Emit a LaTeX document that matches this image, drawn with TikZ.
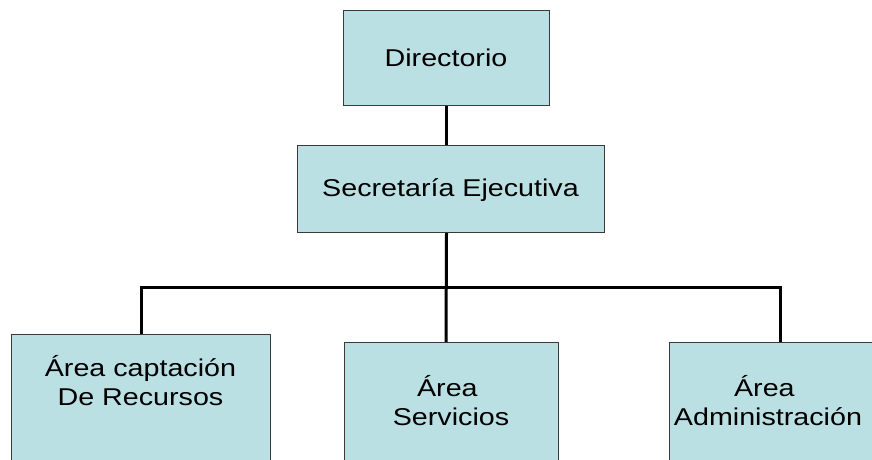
\documentclass[tikz,border=0pt]{standalone}
\usepackage{fontspec}
\newfontfamily\orgfont[FakeStretch=1.18]{Liberation Sans}
\definecolor{boxfill}{HTML}{BBE0E3}
\definecolor{boxline}{HTML}{3A3A3A}
\begin{document}
\begin{tikzpicture}[x=1pt,y=-1pt,
  box/.style={draw=boxline, fill=boxfill, line width=1pt, inner sep=0pt, anchor=north west},
  conn/.style={line width=3pt, black},
  lbl/.style={font=\orgfont\fontsize{24.3}{28.5}\selectfont, inner sep=0pt, align=center, anchor=base}]
\useasboundingbox (0,0) rectangle (872,459);
\clip (0,0) rectangle (872,459);
\node[box, minimum width=206pt, minimum height=95pt] (dir) at (343,10) {};
\node[box, minimum width=307pt, minimum height=87pt] (sec) at (297,145) {};
\node[box, minimum width=259pt, minimum height=140pt] (left) at (11,334) {};
\node[box, minimum width=214pt, minimum height=140pt] (mid) at (344,342) {};
\node[box, minimum width=222pt, minimum height=140pt] (right) at (669,342) {};
\node[lbl] (dirt) at (446,66.7) {Directorio};
\node[lbl] (sect) at (450.5,196.7) {Secretaría Ejecutiva};
\node[lbl] (leftt) at (140.5,405) {Área captación\\De Recursos};
\node[lbl] (midt) at (451,425) {Área\kern.3em\\Servicios};
\node[lbl] (rightt) at (768,425) {Área\kern.3em\\Administración};
\coordinate (bus) at (446,287);
\draw[conn] (dir.south) -- (dir.south |- sec.north);
\draw[conn] (dir.south |- sec.south) -- (bus |- mid.north);
\draw[conn] (left.north) |- (bus) -| (right.north);
\end{tikzpicture}
\end{document}
